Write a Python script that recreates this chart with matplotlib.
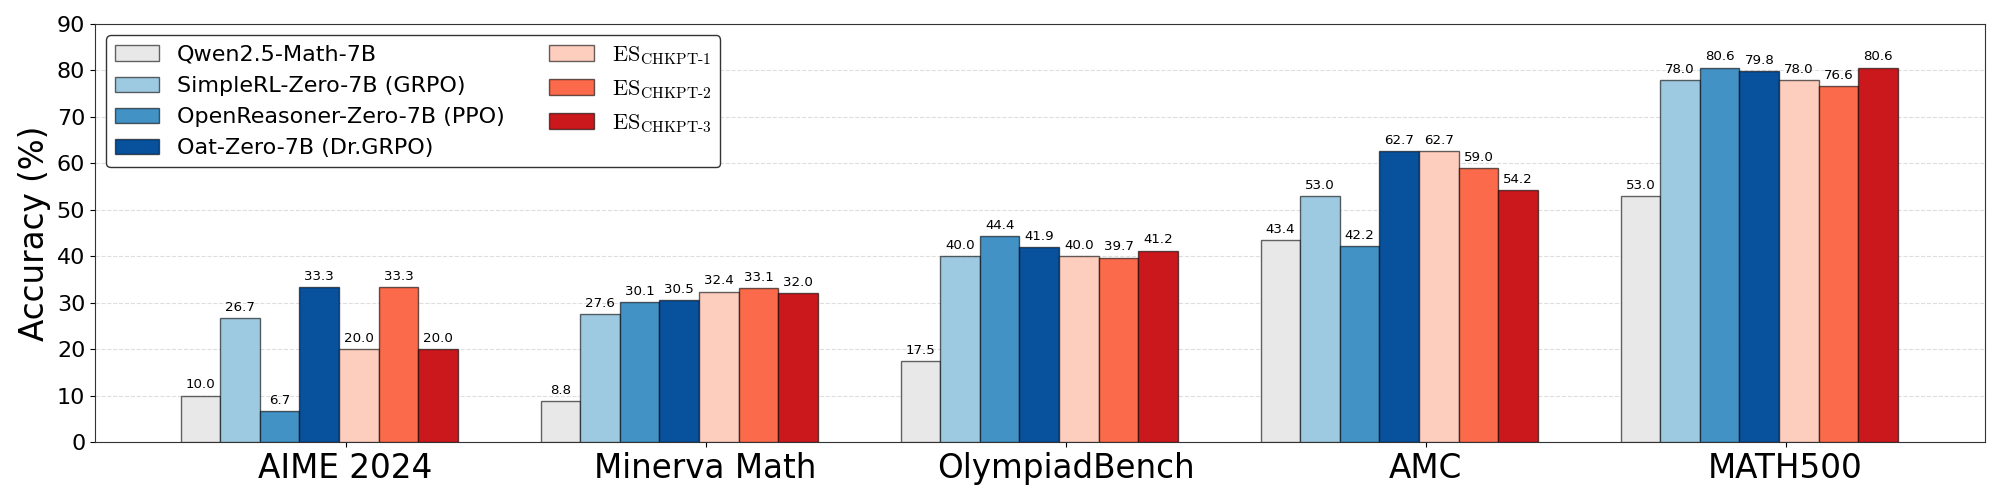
import matplotlib
matplotlib.use('Agg')
import matplotlib.pyplot as plt
import numpy as np

plt.rcParams['mathtext.fontset'] = 'cm'

benchmarks = ['AIME 2024', 'Minerva Math', 'OlympiadBench', 'AMC', 'MATH500']

model_names = [
    'Qwen2.5-Math-7B',
    'SimpleRL-Zero-7B (GRPO)',
    'OpenReasoner-Zero-7B (PPO)',
    'Oat-Zero-7B (Dr.GRPO)',
    r'$\mathrm{ES}_{\mathrm{CHKPT\text{-}1}}$',
    r'$\mathrm{ES}_{\mathrm{CHKPT\text{-}2}}$',
    r'$\mathrm{ES}_{\mathrm{CHKPT\text{-}3}}$',
]

qwen = [10.0, 8.8, 17.5, 43.4, 53.0]
simplerl = [26.7, 27.6, 40.0, 53.0, 78.0]
openreasoner = [6.7, 30.1, 44.4, 42.2, 80.6]
oat = [33.3, 30.5, 41.9, 62.7, 79.8]
es1 = [20.0, 32.4, 40.0, 62.7, 78.0]
es2 = [33.3, 33.1, 39.7, 59.0, 76.6]
es3 = [20.0, 32.0, 41.2, 54.2, 80.6]

all_scores = [qwen, simplerl, openreasoner, oat, es1, es2, es3]
colors = ['#e8e8e8', '#9ecae1', '#4292c6', '#08519c', '#fdcdbd', '#fb6a4a', '#cb181d']

x = np.arange(len(benchmarks))
w = 0.11

fig, ax = plt.subplots(figsize=(20, 5), dpi=100)
fig.subplots_adjust(left=0.0475, right=0.9925, top=0.952, bottom=0.116)

for i in range(len(all_scores)):
    pos = x + (i - 3) * w - 0.073
    bars = ax.bar(pos, all_scores[i], w, color=colors[i], label=model_names[i],
                  edgecolor=(0, 0, 0, 0.6), linewidth=1.0, zorder=3)
    for b, v in zip(bars, all_scores[i]):
        ax.text(b.get_x() + b.get_width() / 2, v + 0.9, '%.1f' % v,
                ha='center', va='bottom', fontsize=9.6, zorder=4)

ax.set_xticks(x)
ax.set_xticklabels(benchmarks, fontsize=23.5)
ax.set_xlim(-0.696, 4.554)
ax.set_ylim(0, 90)
ax.set_yticks(np.arange(0, 91, 10))
ax.tick_params(axis='y', labelsize=16)
ax.set_ylabel('Accuracy (%)', fontsize=23.5)
ax.grid(axis='y', linestyle='--', color='#d0d0d0', alpha=0.7, zorder=0)
ax.set_axisbelow(True)
for s in ax.spines.values():
    s.set_color('#333333')

leg = ax.legend(ncol=2, loc='upper left', fontsize=16, frameon=True,
                edgecolor='#333333', fancybox=True)
leg.get_frame().set_alpha(1)

plt.savefig('out.png', dpi=100)
